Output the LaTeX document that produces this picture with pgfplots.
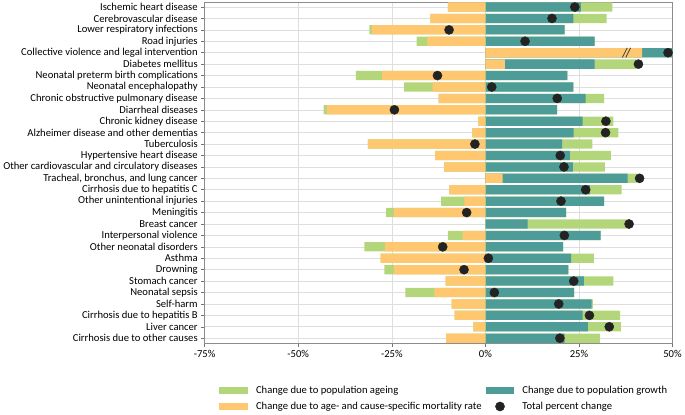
\documentclass[border=0pt]{standalone}
\usepackage{pgfplots}
\pgfplotsset{compat=1.18}
\usepackage{pgfplotstable}
\usepackage{fontspec}
\setmainfont{Carlito}
\definecolor{cgreen}{HTML}{B4D67B}
\definecolor{cteal}{HTML}{4E9C97}
\definecolor{corange}{HTML}{FFC870}
\definecolor{cdot}{HTML}{232323}
\pgfplotstableread{
idx G T O tot
0 8.4 25.5 -10.0 23.9
1 8.9 23.5 -14.7 17.8
2 -0.7 21.2 -30.3 -9.7
3 -2.9 29.2 -15.5 10.6
4 0 8.5 41.9 48.8
5 11.2 24.0 5.2 40.9
6 -7.0 21.9 -27.6 -12.8
7 -7.6 23.5 -14.1 1.7
8 4.9 26.8 -12.5 19.2
9 -0.9 19.2 -42.3 -24.3
10 8.2 26.0 -1.9 32.2
11 11.9 23.6 -3.5 32.1
12 8.1 20.5 -31.4 -2.8
13 10.9 22.6 -13.4 20.0
14 8.5 23.4 -11.0 21.0
15 2.6 33.4 4.6 41.2
16 8.5 27.9 -9.6 26.8
17 -6.2 31.7 -5.6 20.2
18 -2.1 21.6 -24.4 -5.0
19 27.3 11.3 0.0 38.4
20 -3.9 30.8 -6.1 21.1
21 -5.5 20.8 -26.8 -11.4
22 6.1 22.9 -28.0 0.8
23 -2.6 22.2 -24.4 -5.7
24 7.9 26.3 -10.6 23.6
25 -7.8 23.7 -13.6 2.4
26 0.3 28.4 -9.0 19.6
27 10.0 26.0 -8.2 27.8
28 8.8 27.4 -3.2 33.1
29 9.4 21.2 -10.5 19.9
}\data
\begin{document}
\begin{tikzpicture}
\begin{axis}[
  width=470bp, height=343bp, scale only axis,
  xmin=-75, xmax=50, ymin=-0.45, ymax=29.45, y dir=reverse,
  font=\fontsize{10.7}{12}\selectfont,
  /pgf/number format/assume math mode=true,
  xtick={-75,-50,-25,0,25,50},
  xticklabel={\pgfmathprintnumber{\tick}\%},
  ytick={0,...,29},
  yticklabels={Ischemic heart disease,Cerebrovascular disease,Lower respiratory infections,Road injuries,Collective violence and legal intervention,Diabetes mellitus,Neonatal preterm birth complications,Neonatal encephalopathy,Chronic obstructive pulmonary disease,Diarrheal diseases,Chronic kidney disease,Alzheimer disease and other dementias,Tuberculosis,Hypertensive heart disease,Other cardiovascular and circulatory diseases,{Tracheal, bronchus, and lung cancer},Cirrhosis due to hepatitis C,Other unintentional injuries,Meningitis,Breast cancer,Interpersonal violence,Other neonatal disorders,Asthma,Drowning,Stomach cancer,Neonatal sepsis,Self-harm,Cirrhosis due to hepatitis B,Liver cancer,Cirrhosis due to other causes},
  tick align=outside, xtick pos=bottom, ytick pos=left,
  major tick length=3.5bp,
  tick style={black!55, line width=0.5bp},
  xmajorgrids, ymajorgrids,
  grid style={black!13, line width=0.6bp},
  axis line style={black!45, line width=0.6bp},
  bars/.style={xbar, bar width=9.3bp, bar shift=0pt, draw=none},
  legend columns=2,
  legend cell align=left,
  legend style={draw=none, at={(0.512,-0.112)}, anchor=north,
    font=\fontsize{10.7}{12}\selectfont,
    /tikz/every odd column/.append style={column sep=6bp},
    /tikz/every even column/.append style={column sep=2bp},
    row sep=3.5bp},
]
\addplot[bars, fill=cgreen, legend image code/.code={\fill[cgreen] (0bp,-3.6bp) rectangle (29bp,3.6bp);}]
  table[x expr={max(\thisrow{O},0)+\thisrow{T}+max(\thisrow{G},0)}, y=idx] {\data};
\addlegendentry{Change due to population ageing}
\addplot[bars, fill=cteal, legend image code/.code={\fill[cteal] (0bp,-3.6bp) rectangle (29bp,3.6bp);}]
  table[x expr={max(\thisrow{O},0)+\thisrow{T}}, y=idx] {\data};
\addlegendentry{Change due to population growth}
\addplot[bars, fill=corange, legend image code/.code={\fill[corange] (0bp,-3.6bp) rectangle (29bp,3.6bp);}]
  table[x expr={max(\thisrow{O},0)}, y=idx] {\data};
\addlegendentry{Change due to age- and cause-specific mortality rate}
\addplot[bars, fill=cgreen, forget plot]
  table[x expr={min(\thisrow{O},0)+min(\thisrow{G},0)}, y=idx] {\data};
\addplot[bars, fill=corange, forget plot]
  table[x expr={min(\thisrow{O},0)}, y=idx] {\data};
\draw[black!75, line width=0.8bp] (axis cs:36.6,4.42) -- (axis cs:37.9,3.58);
\draw[black!75, line width=0.8bp] (axis cs:37.5,4.42) -- (axis cs:38.8,3.58);
\addplot[only marks, mark=*, mark size=4.6bp, mark options={fill=cdot, draw=cdot},
  legend image code/.code={\fill[cdot] (14.5bp,0bp) circle (4.6bp);}]
  table[x=tot, y=idx] {\data};
\addlegendentry{Total percent change}
\end{axis}
\end{tikzpicture}
\end{document}
